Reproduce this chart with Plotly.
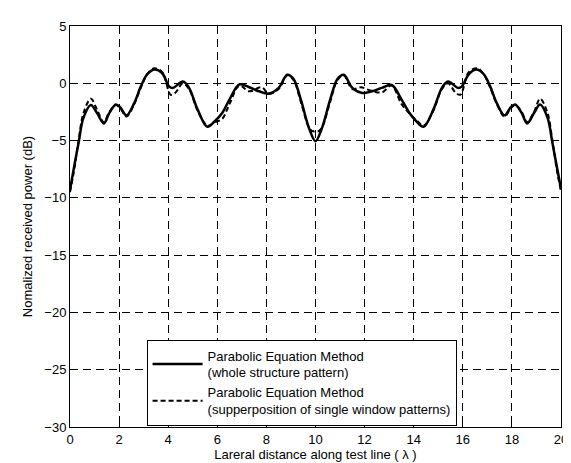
import plotly.graph_objects as go

# Solid curve: Parabolic Equation Method (whole structure pattern)
x_whole = [0.0, 0.15, 0.35, 0.55, 0.85, 1.1, 1.38, 1.6, 1.87, 2.05, 2.3, 2.6, 2.9, 3.15, 3.45,
           3.75, 4.05, 4.2, 4.6, 4.85, 5.2, 5.6, 5.9, 6.2, 6.5, 6.9, 7.3, 7.7, 8.1, 8.5, 8.85,
           9.1, 9.4, 9.75, 10.0,
           10.25, 10.6, 10.9, 11.15, 11.5, 11.9, 12.3, 12.7, 13.1, 13.5, 13.8, 14.1, 14.4,
           14.8, 15.15, 15.4, 15.8, 15.95, 16.25, 16.55, 16.85, 17.1, 17.4, 17.7, 17.95, 18.13,
           18.4, 18.62, 18.9, 19.15, 19.45, 19.65, 19.85, 20.0]
y_whole = [-9.3, -7.5, -5.2, -3.0, -1.9, -2.6, -3.5, -2.6, -1.85, -2.1, -2.8, -1.8, -0.2, 0.8, 1.2,
           0.9, -0.3, -0.4, 0.15, -0.4, -2.3, -3.8, -3.3, -2.6, -1.4, -0.1, -0.35, -0.7, -0.9, -0.4, 0.75,
           0.4, -1.4, -4.0, -5.05,
           -4.0, -1.4, 0.4, 0.75, -0.4, -0.85, -0.7, -0.4, -0.15, -1.4, -2.5, -3.3, -3.8,
           -2.3, -0.4, 0.15, -0.4, -0.3, 0.8, 1.2, 0.8, -0.2, -1.8, -2.8, -2.1, -1.85,
           -2.6, -3.5, -2.6, -1.85, -3.0, -5.2, -7.5, -9.2]

# Dashed curve: Parabolic Equation Method (superposition of single window patterns)
x_super = [0.0, 0.15, 0.35, 0.55, 0.85, 1.1, 1.38, 1.6, 1.87, 2.05, 2.3, 2.6, 2.9, 3.15, 3.4,
           3.75, 4.1, 4.3, 4.6, 4.85, 5.2, 5.6, 5.9, 6.2, 6.5, 6.9, 7.3, 7.8, 8.1, 8.5, 8.85,
           9.1, 9.4, 9.7, 9.85, 10.0, 10.15, 10.3,
           10.6, 10.9, 11.15, 11.5, 11.85, 12.2, 12.7, 13.1, 13.5, 13.9, 14.1, 14.4,
           14.8, 15.15, 15.4, 15.7, 15.9, 16.25, 16.6, 16.85, 17.1, 17.4, 17.7, 17.95, 18.13,
           18.4, 18.62, 18.9, 19.15, 19.45, 19.65, 19.85, 20.0]
y_super = [-9.5, -7.8, -5.0, -2.6, -1.35, -2.3, -3.4, -2.5, -1.9, -2.2, -2.9, -1.9, -0.3, 0.8, 1.3,
           1.0, -1.0, -0.8, 0.0, -0.5, -2.4, -3.7, -3.4, -3.1, -1.8, -0.2, -0.7, -0.35, -0.9, -0.5, 0.7,
           0.3, -1.6, -3.7, -4.15, -4.2, -4.15, -3.7,
           -1.6, 0.3, 0.7, -0.5, -0.35, -0.6, -0.8, -0.2, -1.8, -2.8, -3.2, -3.7,
           -2.4, -0.5, 0.0, -0.8, -1.0, 1.0, 1.3, 0.8, -0.3, -1.9, -2.9, -2.2, -1.9,
           -2.5, -3.4, -2.5, -1.35, -2.6, -5.0, -7.8, -9.4]

x_ticks = [0, 2, 4, 6, 8, 10, 12, 14, 16, 18, 20]
y_ticks = [5, 0, -5, -10, -15, -20, -25, -30]

FONT = "Liberation Sans, Arial, sans-serif"

fig = go.Figure()
fig.add_trace(go.Scatter(
    x=x_whole, y=y_whole, mode="lines", line_shape="spline",
    line=dict(color="black", width=2.5),
    name="Parabolic Equation Method<br>(whole structure pattern)"))
fig.add_trace(go.Scatter(
    x=x_super, y=y_super, mode="lines", line_shape="spline",
    line=dict(color="black", width=2, dash="5px,3px"),
    name="Parabolic Equation Method<br>(supperposition of single window patterns)"))

axis_common = dict(
    showline=True, mirror=True, linecolor="black", linewidth=1,
    ticks="inside", ticklen=5, tickcolor="black",
    showgrid=True, gridcolor="black", gridwidth=1, griddash="8px,5px",
    zeroline=False, tickfont=dict(family=FONT, size=13, color="black"),
)

fig.update_xaxes(range=[0, 20], tickvals=x_ticks, **axis_common,
                 title=dict(text="Lareral distance along test line ( λ )",
                            font=dict(family=FONT, size=13, color="black"), standoff=0))
fig.update_yaxes(range=[-30, 5], tickvals=y_ticks, **axis_common,
                 title=dict(text="Nomalized received power (dB)",
                            font=dict(family=FONT, size=13, color="black"), standoff=8))

fig.update_layout(
    width=571, height=463,
    margin=dict(l=62, r=14, t=11, b=44),
    paper_bgcolor="white", plot_bgcolor="white",
    font=dict(family=FONT, size=13, color="black"),
    showlegend=True,
    legend=dict(x=0.156, y=0.218, xanchor="left", yanchor="top",
                bgcolor="white", bordercolor="black", borderwidth=1,
                font=dict(family=FONT, size=13, color="black"),
                itemwidth=50, tracegroupgap=0),
)

fig.write_html("out.html")
